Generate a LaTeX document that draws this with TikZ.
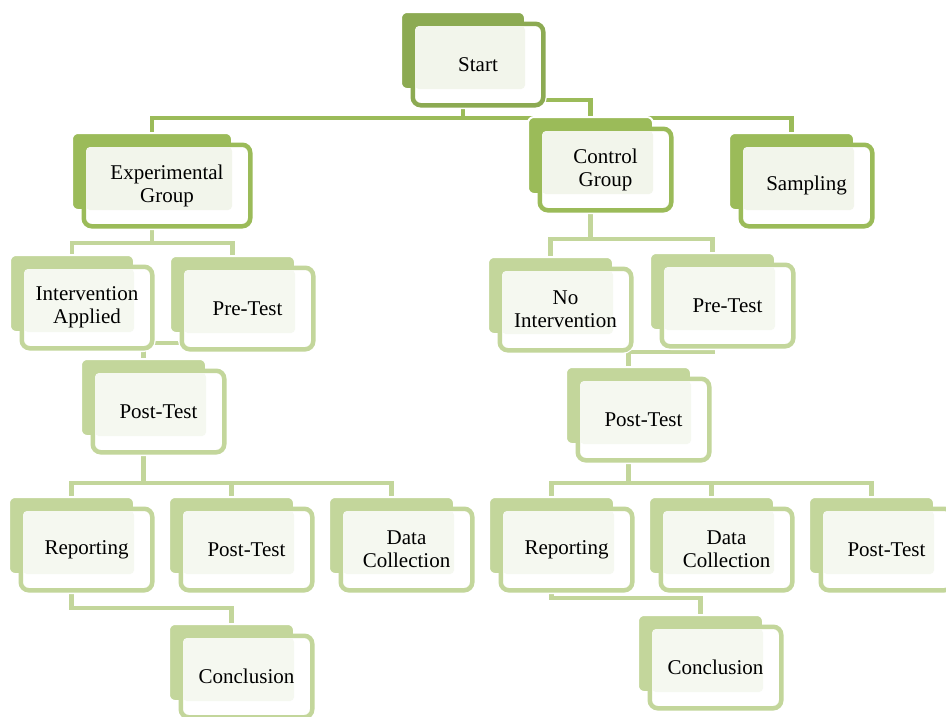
\documentclass[tikz,border=0pt]{standalone}
\usepackage{fontspec}
\setmainfont{Liberation Serif}
\pgfdeclarelayer{bg}
\pgfsetlayers{bg,main}
\definecolor{gA}{HTML}{8CAA52}
\definecolor{gB}{HTML}{9BBB59}
\definecolor{gC}{HTML}{C3D69B}
\definecolor{lA}{HTML}{F2F5EB}
\definecolor{lC}{HTML}{F5F8F0}
\tikzset{
  backbox/.style={rectangle, rounded corners=6, minimum height=77, inner sep=0pt, outer sep=0pt, draw=white, line width=2},
  frontbox/.style={rectangle, rounded corners=8, line width=4.5, fill=white, minimum height=81.5, inner sep=0pt, outer sep=0pt},
  lbl/.style={align=center, inner sep=0pt, font=\fontsize{21}{23}\selectfont},
  connA/.style={draw=gB, line width=4.5, line join=miter},
  connC/.style={draw=gC, line width=4.5, line join=miter}
}
% #1 name, #2 x, #3 y, #4 back width, #5 back colour, #6 border colour, #7 light colour, #8 text
\newcommand\gbox[8]{%
  \draw[white, line width=7.5, rounded corners=9] (#2+11.75,#3+11.75) rectangle (#2+#4+18.25,#3+93.25);
  \node[backbox, fill=#5, minimum width={#4}, anchor=north west] (#1b) at (#2,#3) {};
  \node[frontbox, draw=#6, minimum width={#4+6.5}, anchor=north west] (#1f) at (#2+11.75,#3+11.75) {};
  \fill[#7, rounded corners=4] (#2+14,#3+14) rectangle (#2+#4,#3+77);
  \node[lbl] (#1) at (#1f.center) {#8};
}
\begin{document}
\begin{tikzpicture}[x=1pt, y=-1pt]
\useasboundingbox (0,0) rectangle (946,716);
\clip (0,0) rectangle (946,716);

\gbox{start}{401}{12}{124}{gA}{gA}{lA}{Start}
\gbox{exp}{72}{133}{160}{gB}{gB}{lA}{Experimental\\Group}
\gbox{ctrl}{528}{117}{125}{gB}{gB}{lA}{Control\\Group}
\gbox{samp}{729}{133}{125}{gB}{gB}{lA}{Sampling}
\gbox{intv}{10}{255}{124}{gC}{gC}{lC}{Intervention\\Applied}
\gbox{preA}{170}{256}{125}{gC}{gC}{lC}{Pre-Test}
\gbox{postA}{81}{359}{125}{gC}{gC}{lC}{Post-Test}
\gbox{repA}{9}{497}{125}{gC}{gC}{lC}{Reporting}
\gbox{postAA}{169}{497}{125}{gC}{gC}{lC}{Post-Test}
\gbox{dataA}{329}{497}{125}{gC}{gC}{lC}{Data\\Collection}
\gbox{concA}{169}{624}{125}{gC}{gC}{lC}{Conclusion}
\gbox{noint}{488}{257}{125}{gC}{gC}{lC}{No\\Intervention}
\gbox{preB}{650}{253}{125}{gC}{gC}{lC}{Pre-Test}
\gbox{postB}{566}{367}{125}{gC}{gC}{lC}{Post-Test}
\gbox{repB}{489}{497}{125}{gC}{gC}{lC}{Reporting}
\gbox{dataB}{649}{497}{125}{gC}{gC}{lC}{Data\\Collection}
\gbox{postBB}{809}{497}{125}{gC}{gC}{lC}{Post-Test}
\gbox{concB}{638}{615}{125}{gC}{gC}{lC}{Conclusion}

\coordinate (hA) at (0,118);
\coordinate (hB) at (0,100);
\coordinate (hC) at (0,243);
\coordinate (hD) at (0,343);
\coordinate (hE) at (0,483);
\coordinate (hF) at (0,608);
\coordinate (hG) at (0,239);
\coordinate (hH) at (0,352);
\coordinate (hI) at (0,598);

\begin{pgfonlayer}{bg}
\fill[white] (0,0) rectangle (946,716);
\draw[connA] (startb.center) |- (expb.north |- hA) -- (expb.north);
\draw[connA] (startb.center) |- (sampb.north |- hA) -- (sampb.north);
\draw[connA] (startb.center) |- (ctrlb.north |- hB) -- (ctrlb.north);
\draw[connC] (expb.center) |- (intvb.north |- hC) -- (intvb.north);
\draw[connC] (expb.center) |- (preAb.north |- hC) -- (preAb.north);
\draw[connC] (preAb.center) |- (postAb.north |- hD) -- (postAb.north);
\draw[connC] (postAb.center) |- (repAb.north |- hE) -- (repAb.north);
\draw[connC] (postAb.center) |- (postAAb.north |- hE) -- (postAAb.north);
\draw[connC] (postAb.center) |- (dataAb.north |- hE) -- (dataAb.north);
\draw[connC] (repAb.center) |- (concAb.north |- hF) -- (concAb.north);
\draw[connC] (ctrlb.center) |- (nointb.north |- hG) -- (nointb.north);
\draw[connC] (ctrlb.center) |- (preBb.north |- hG) -- (preBb.north);
\draw[connC] (preBb.center) |- (postBb.north |- hH) -- (postBb.north);
\draw[connC] (postBb.center) |- (repBb.north |- hE) -- (repBb.north);
\draw[connC] (postBb.center) |- (dataBb.north |- hE) -- (dataBb.north);
\draw[connC] (postBb.center) |- (postBBb.north |- hE) -- (postBBb.north);
\draw[connC] (repBb.center) |- (concBb.north |- hI) -- (concBb.north);
\end{pgfonlayer}
\end{tikzpicture}
\end{document}
